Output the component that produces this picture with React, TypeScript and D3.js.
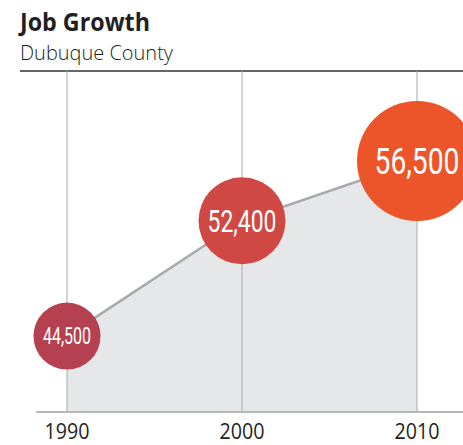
import { useEffect, useRef } from "react"
import * as d3 from "d3"

const years = [1990, 2000, 2010]
const jobs = [44500, 52400, 56500]
const bubbleColors = ["#b5404f", "#d04844", "#ec5529"]

const title = "Job Growth"
const subtitle = "Dubuque County"

const W = 463
const H = 445

export default function App() {
  const svgRef = useRef<SVGSVGElement>(null)

  useEffect(() => {
    document.body.style.margin = "0"
    if (!svgRef.current) return
    const svg = d3.select(svgRef.current)
    svg.selectAll("*").remove()

    const top = 71
    const base = 412

    const x = d3.scaleLinear().domain([1990, 2010]).range([67, 417])
    const y = d3.scaleLinear().domain([39300, 56500]).range([base, 161])
    // bubble size grows faster than the value itself
    const r = d3.scaleLinear().domain(jobs).range([33.5, 43.5, 60])
    const fontSize = d3.scaleLinear().domain(jobs).range([23, 30.5, 36.5])
    const labelWidth = d3.scaleLinear().domain(jobs).range([48, 69, 85])

    const points = years.map((yr, i) => ({ yr, v: jobs[i], color: bubbleColors[i] }))

    // headline
    svg.append("text")
      .attr("x", 20).attr("y", 31)
      .attr("font-family", "'Open Sans', sans-serif")
      .attr("font-weight", 700)
      .attr("font-size", 25)
      .attr("fill", "#231f20")
      .attr("textLength", 130)
      .attr("lengthAdjust", "spacingAndGlyphs")
      .text(title)

    svg.append("text")
      .attr("x", 20).attr("y", 60)
      .attr("font-family", "'Open Sans', sans-serif")
      .attr("font-weight", 300)
      .attr("font-size", 21)
      .attr("fill", "#231f20")
      .attr("textLength", 153)
      .attr("lengthAdjust", "spacingAndGlyphs")
      .text(subtitle)

    svg.append("line")
      .attr("x1", 20).attr("x2", W)
      .attr("y1", top).attr("y2", top)
      .attr("stroke", "#333")
      .attr("stroke-width", 1.5)

    // area under the line
    const area = d3.area<typeof points[0]>()
      .x((d) => x(d.yr))
      .y0(base)
      .y1((d) => y(d.v))
    svg.append("path")
      .datum(points)
      .attr("d", area)
      .attr("fill", "#e6e7e9")

    // vertical grid lines
    svg.append("g")
      .selectAll("line")
      .data(years)
      .enter()
      .append("line")
      .attr("x1", (d) => x(d)).attr("x2", (d) => x(d))
      .attr("y1", top).attr("y2", base)
      .attr("stroke", "#a7a9ac")
      .attr("stroke-width", 1)

    svg.append("line")
      .attr("x1", 36).attr("x2", W)
      .attr("y1", base).attr("y2", base)
      .attr("stroke", "#b4b6b9")
      .attr("stroke-width", 2)

    const line = d3.line<typeof points[0]>()
      .x((d) => x(d.yr))
      .y((d) => y(d.v))
    svg.append("path")
      .datum(points)
      .attr("d", line)
      .attr("fill", "none")
      .attr("stroke", "#a7a9ac")
      .attr("stroke-width", 2.5)

    // year labels
    svg.append("g")
      .selectAll("text")
      .data(years)
      .enter()
      .append("text")
      .attr("x", (d) => x(d))
      .attr("y", 439)
      .attr("text-anchor", "middle")
      .attr("font-family", "'Open Sans', sans-serif")
      .attr("font-size", 22)
      .attr("fill", "#231f20")
      .attr("textLength", 45)
      .attr("lengthAdjust", "spacingAndGlyphs")
      .text((d) => d)

    const bubbles = svg.append("g")
      .selectAll("g")
      .data(points)
      .enter()
      .append("g")
      .attr("transform", (d) => `translate(${x(d.yr)},${y(d.v)})`)

    bubbles.append("circle")
      .attr("r", (d) => r(d.v))
      .attr("fill", (d) => d.color)

    bubbles.append("text")
      .attr("text-anchor", "middle")
      .attr("dy", (d) => fontSize(d.v) * 0.355)
      .attr("font-family", "Roboto, sans-serif")
      .attr("font-size", (d) => fontSize(d.v))
      .attr("fill", "#fff")
      .attr("textLength", (d) => labelWidth(d.v))
      .attr("lengthAdjust", "spacingAndGlyphs")
      .text((d) => d3.format(",")(d.v))
  }, [])

  return <svg ref={svgRef} width={W} height={H} style={{ display: "block" }} />
}
